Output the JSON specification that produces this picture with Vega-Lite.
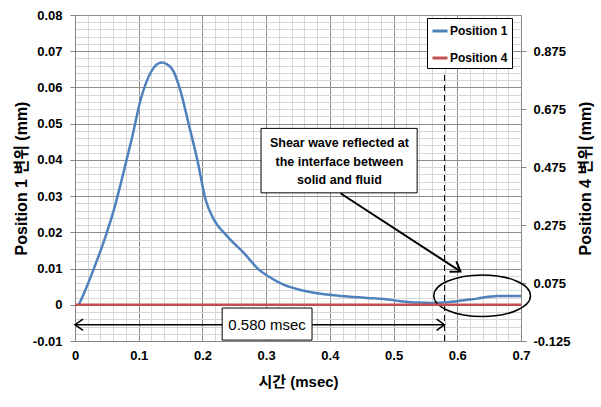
{
  "$schema": "https://vega.github.io/schema/vega-lite/v6.json",
  "width": 446,
  "height": 326,
  "autosize": {"type": "none"},
  "padding": {"left": 75, "top": 15, "right": 80, "bottom": 66},
  "background": "white",
  "config": {
    "view": {"stroke": null},
    "axis": {
      "labelFont": "Liberation Sans",
      "labelFontWeight": "bold",
      "labelFontSize": 13,
      "labelColor": "#000000",
      "titleFont": "Liberation Sans, Noto Sans CJK KR",
      "titleFontWeight": "bold",
      "titleColor": "#000000",
      "domainColor": "#868686",
      "tickColor": "#868686"
    }
  },
  "datasets": {
    "pos1": [
      {"x": 0.006, "y": 0.0, "series": "Position 1"},
      {"x": 0.015, "y": 0.0035, "series": "Position 1"},
      {"x": 0.029, "y": 0.0097, "series": "Position 1"},
      {"x": 0.048, "y": 0.0189, "series": "Position 1"},
      {"x": 0.061, "y": 0.0262, "series": "Position 1"},
      {"x": 0.076, "y": 0.0364, "series": "Position 1"},
      {"x": 0.09, "y": 0.0465, "series": "Position 1"},
      {"x": 0.103, "y": 0.0566, "series": "Position 1"},
      {"x": 0.119, "y": 0.0642, "series": "Position 1"},
      {"x": 0.136, "y": 0.0669, "series": "Position 1"},
      {"x": 0.152, "y": 0.0652, "series": "Position 1"},
      {"x": 0.165, "y": 0.0594, "series": "Position 1"},
      {"x": 0.178, "y": 0.0502, "series": "Position 1"},
      {"x": 0.192, "y": 0.04, "series": "Position 1"},
      {"x": 0.205, "y": 0.029, "series": "Position 1"},
      {"x": 0.218, "y": 0.0235, "series": "Position 1"},
      {"x": 0.239, "y": 0.0189, "series": "Position 1"},
      {"x": 0.265, "y": 0.0143, "series": "Position 1"},
      {"x": 0.29, "y": 0.0095, "series": "Position 1"},
      {"x": 0.302, "y": 0.008, "series": "Position 1"},
      {"x": 0.328, "y": 0.0055, "series": "Position 1"},
      {"x": 0.354, "y": 0.0041, "series": "Position 1"},
      {"x": 0.38, "y": 0.0032, "series": "Position 1"},
      {"x": 0.406, "y": 0.0026, "series": "Position 1"},
      {"x": 0.432, "y": 0.0022, "series": "Position 1"},
      {"x": 0.458, "y": 0.0019, "series": "Position 1"},
      {"x": 0.485, "y": 0.0016, "series": "Position 1"},
      {"x": 0.511, "y": 0.001, "series": "Position 1"},
      {"x": 0.537, "y": 0.0006, "series": "Position 1"},
      {"x": 0.563, "y": 0.0005, "series": "Position 1"},
      {"x": 0.579, "y": 0.0006, "series": "Position 1"},
      {"x": 0.6, "y": 0.001, "series": "Position 1"},
      {"x": 0.631, "y": 0.0017, "series": "Position 1"},
      {"x": 0.663, "y": 0.0024, "series": "Position 1"},
      {"x": 0.7, "y": 0.0024, "series": "Position 1"}
    ],
    "pos4": [
      {"x": 0.0, "y": 0, "series": "Position 4"},
      {"x": 0.1, "y": 0, "series": "Position 4"},
      {"x": 0.2, "y": 0, "series": "Position 4"},
      {"x": 0.3, "y": 0, "series": "Position 4"},
      {"x": 0.4, "y": 0, "series": "Position 4"},
      {"x": 0.5, "y": 0, "series": "Position 4"},
      {"x": 0.6, "y": 0, "series": "Position 4"},
      {"x": 0.7, "y": 0, "series": "Position 4"}
    ]
  },
  "encoding": {
    "x": {
      "field": "x",
      "type": "quantitative",
      "scale": {"domain": [0, 0.7], "nice": false, "zero": false},
      "axis": {
        "orient": "bottom",
        "values": [0,0.02,0.04,0.06,0.08,0.1,0.12,0.14,0.16,0.18,0.2,0.22,0.24,0.26,0.28,0.3,0.32,0.34,0.36,0.38,0.4,0.42,0.44,0.46,0.48,0.5,0.52,0.54,0.56,0.58,0.6,0.62,0.64,0.66,0.68,0.7],
        "labelExpr": "abs(datum.value*10-round(datum.value*10))<0.001 ? ''+round(datum.value*10)/10 : ''",
        "grid": true,
        "gridColor": {"condition": {"test": "abs(datum.value*10-round(datum.value*10))<0.001", "value": "#8c8c8c"}, "value": "#d6d6d6"},
        "gridWidth": 1,
        "ticks": false,
        "labelPadding": 8,
        "labelOverlap": false,
        "labelFlush": false,
        "title": "시간 (msec)",
        "titleFontSize": 15,
        "titlePadding": 12
      }
    }
  },
  "layer": [
    {
      "encoding": {
        "y": {
          "field": "y",
          "type": "quantitative",
          "scale": {"domain": [-0.01, 0.08], "nice": false, "zero": false},
          "axis": {
            "orient": "left",
            "values": [-0.01,-0.008,-0.006,-0.004,-0.002,0,0.002,0.004,0.006,0.008,0.01,0.012,0.014,0.016,0.018,0.02,0.022,0.024,0.026,0.028,0.03,0.032,0.034,0.036,0.038,0.04,0.042,0.044,0.046,0.048,0.05,0.052,0.054,0.056,0.058,0.06,0.062,0.064,0.066,0.068,0.07,0.072,0.074,0.076,0.078,0.08],
            "labelExpr": "abs(datum.value*100-round(datum.value*100))<0.001 ? ''+round(datum.value*100)/100 : ''",
            "grid": true,
            "gridColor": {"condition": {"test": "abs(datum.value*100-round(datum.value*100))<0.001", "value": "#8c8c8c"}, "value": "#d6d6d6"},
            "gridWidth": 1,
            "tickOpacity": {"condition": {"test": "abs(datum.value*100-round(datum.value*100))<0.001", "value": 1}, "value": 0},
            "tickSize": 5,
            "labelPadding": 8,
            "labelOverlap": false,
            "labelFlush": false,
            "title": "Position 1 변위 (mm)",
            "titleFontSize": 16,
            "titlePadding": 3
          }
        }
      },
      "layer": [
        {
          "data": {"name": "pos1"},
          "mark": {"type": "line", "interpolate": "monotone", "strokeWidth": 2.5},
          "encoding": {
            "color": {
              "field": "series",
              "type": "nominal",
              "scale": {"domain": ["Position 1", "Position 4"], "range": ["#4F81BD", "#C0504D"]},
              "legend": {
                "title": null,
                "orient": "none",
                "legendX": 352,
                "legendY": 3,
                "fillColor": "white",
                "strokeColor": "#000000",
                "padding": 4,
                "symbolType": "stroke",
                "symbolSize": 225,
                "symbolStrokeWidth": 3,
                "labelFont": "Liberation Sans",
                "labelFontWeight": "bold",
                "labelFontSize": 12,
                "labelColor": "#000000",
                "labelOffset": 1,
                "rowPadding": 12
              }
            }
          }
        },
        {
          "data": {"values": [{"x": 0.58, "y": -0.01, "y2": 0.0636}]},
          "mark": {"type": "rule", "color": "#000000", "strokeWidth": 1, "strokeDash": [6, 4]},
          "encoding": {"y2": {"field": "y2"}}
        },
        {
          "data": {"values": [{"x": 0.0, "x2": 0.58, "y": -0.0055}]},
          "mark": {"type": "rule", "color": "#000000", "strokeWidth": 1.5},
          "encoding": {"x2": {"field": "x2"}}
        },
        {
          "data": {"values": [{"x": 0.0, "y": -0.0055}]},
          "mark": {"type": "point", "shape": "M -1 -0.7 L 0 0 L -1 0.7", "size": 256, "filled": false, "stroke": "#000000", "strokeWidth": 1.5, "opacity": 1, "angle": 180},
          "encoding": {}
        },
        {
          "data": {"values": [{"x": 0.58, "y": -0.0055}]},
          "mark": {"type": "point", "shape": "M -1 -0.7 L 0 0 L -1 0.7", "size": 256, "filled": false, "stroke": "#000000", "strokeWidth": 1.5, "opacity": 1, "angle": 0},
          "encoding": {}
        },
        {
          "data": {"values": [{"x": 0.4166, "y": 0.0308, "x2": 0.605, "y2": 0.0092}]},
          "mark": {"type": "rule", "color": "#000000", "strokeWidth": 2},
          "encoding": {"x2": {"field": "x2"}, "y2": {"field": "y2"}}
        },
        {
          "data": {"values": [{"x": 0.605, "y": 0.0092}]},
          "mark": {"type": "point", "shape": "M -1 -0.7 L 0 0 L -1 0.7", "size": 324, "filled": false, "stroke": "#000000", "strokeWidth": 2, "opacity": 1, "angle": 33},
          "encoding": {}
        },
        {
          "data": {"values": [{"x": 0.292, "x2": 0.537, "y": 0.0487, "y2": 0.0309}]},
          "mark": {"type": "rect", "fill": "white", "stroke": "#000000", "strokeWidth": 1},
          "encoding": {"x2": {"field": "x2"}, "y2": {"field": "y2"}}
        },
        {
          "data": {"values": [{"x": 0.415, "y": 0.04455, "label": "Shear wave reflected at\nthe interface between\nsolid and fluid"}]},
          "mark": {"type": "text", "font": "Liberation Sans", "fontWeight": "bold", "fontSize": 12.5, "lineBreak": "\n", "lineHeight": 18.3, "align": "center", "baseline": "middle", "color": "#000000"},
          "encoding": {"text": {"field": "label"}}
        },
        {
          "data": {"values": [{"x": 0.639, "y": 0.0025}]},
          "mark": {"type": "point", "shape": "M -1 0 C -1 -0.238 -0.552 -0.431 0 -0.431 C 0.552 -0.431 1 -0.238 1 0 C 1 0.238 0.552 0.431 0 0.431 C -0.552 0.431 -1 0.238 -1 0 Z", "size": 9350, "filled": false, "stroke": "#000000", "strokeWidth": 1.5, "opacity": 1},
          "encoding": {}
        },
        {
          "data": {"values": [{"x": 0.231, "x2": 0.372, "y": -0.0009, "y2": -0.00975}]},
          "mark": {"type": "rect", "fill": "white", "stroke": "#000000", "strokeWidth": 1},
          "encoding": {"x2": {"field": "x2"}, "y2": {"field": "y2"}}
        },
        {
          "data": {"values": [{"x": 0.3015, "y": -0.0055, "label": "0.580 msec"}]},
          "mark": {"type": "text", "font": "Liberation Sans", "fontSize": 15, "align": "center", "baseline": "middle", "color": "#000000"},
          "encoding": {"text": {"field": "label"}}
        }
      ]
    },
    {
      "data": {"name": "pos4"},
      "mark": {"type": "line", "strokeWidth": 2.5},
      "encoding": {
        "y": {
          "field": "y",
          "type": "quantitative",
          "scale": {"domain": [-0.125, 1.0], "nice": false, "zero": false},
          "axis": {
            "orient": "right",
            "values": [-0.125, 0.075, 0.275, 0.475, 0.675, 0.875],
            "labelExpr": "''+round(datum.value*1000)/1000",
            "grid": false,
            "tickSize": 5,
            "labelPadding": 7,
            "labelOverlap": false,
            "labelFlush": false,
            "title": "Position 4 변위 (mm)",
            "titleFontSize": 16,
            "titleAngle": 270,
            "titleBaseline": "top",
            "titlePadding": 8
          }
        },
        "color": {"field": "series", "type": "nominal", "scale": {"domain": ["Position 1", "Position 4"], "range": ["#4F81BD", "#C0504D"]}}
      }
    }
  ],
  "resolve": {"scale": {"y": "independent"}}
}
